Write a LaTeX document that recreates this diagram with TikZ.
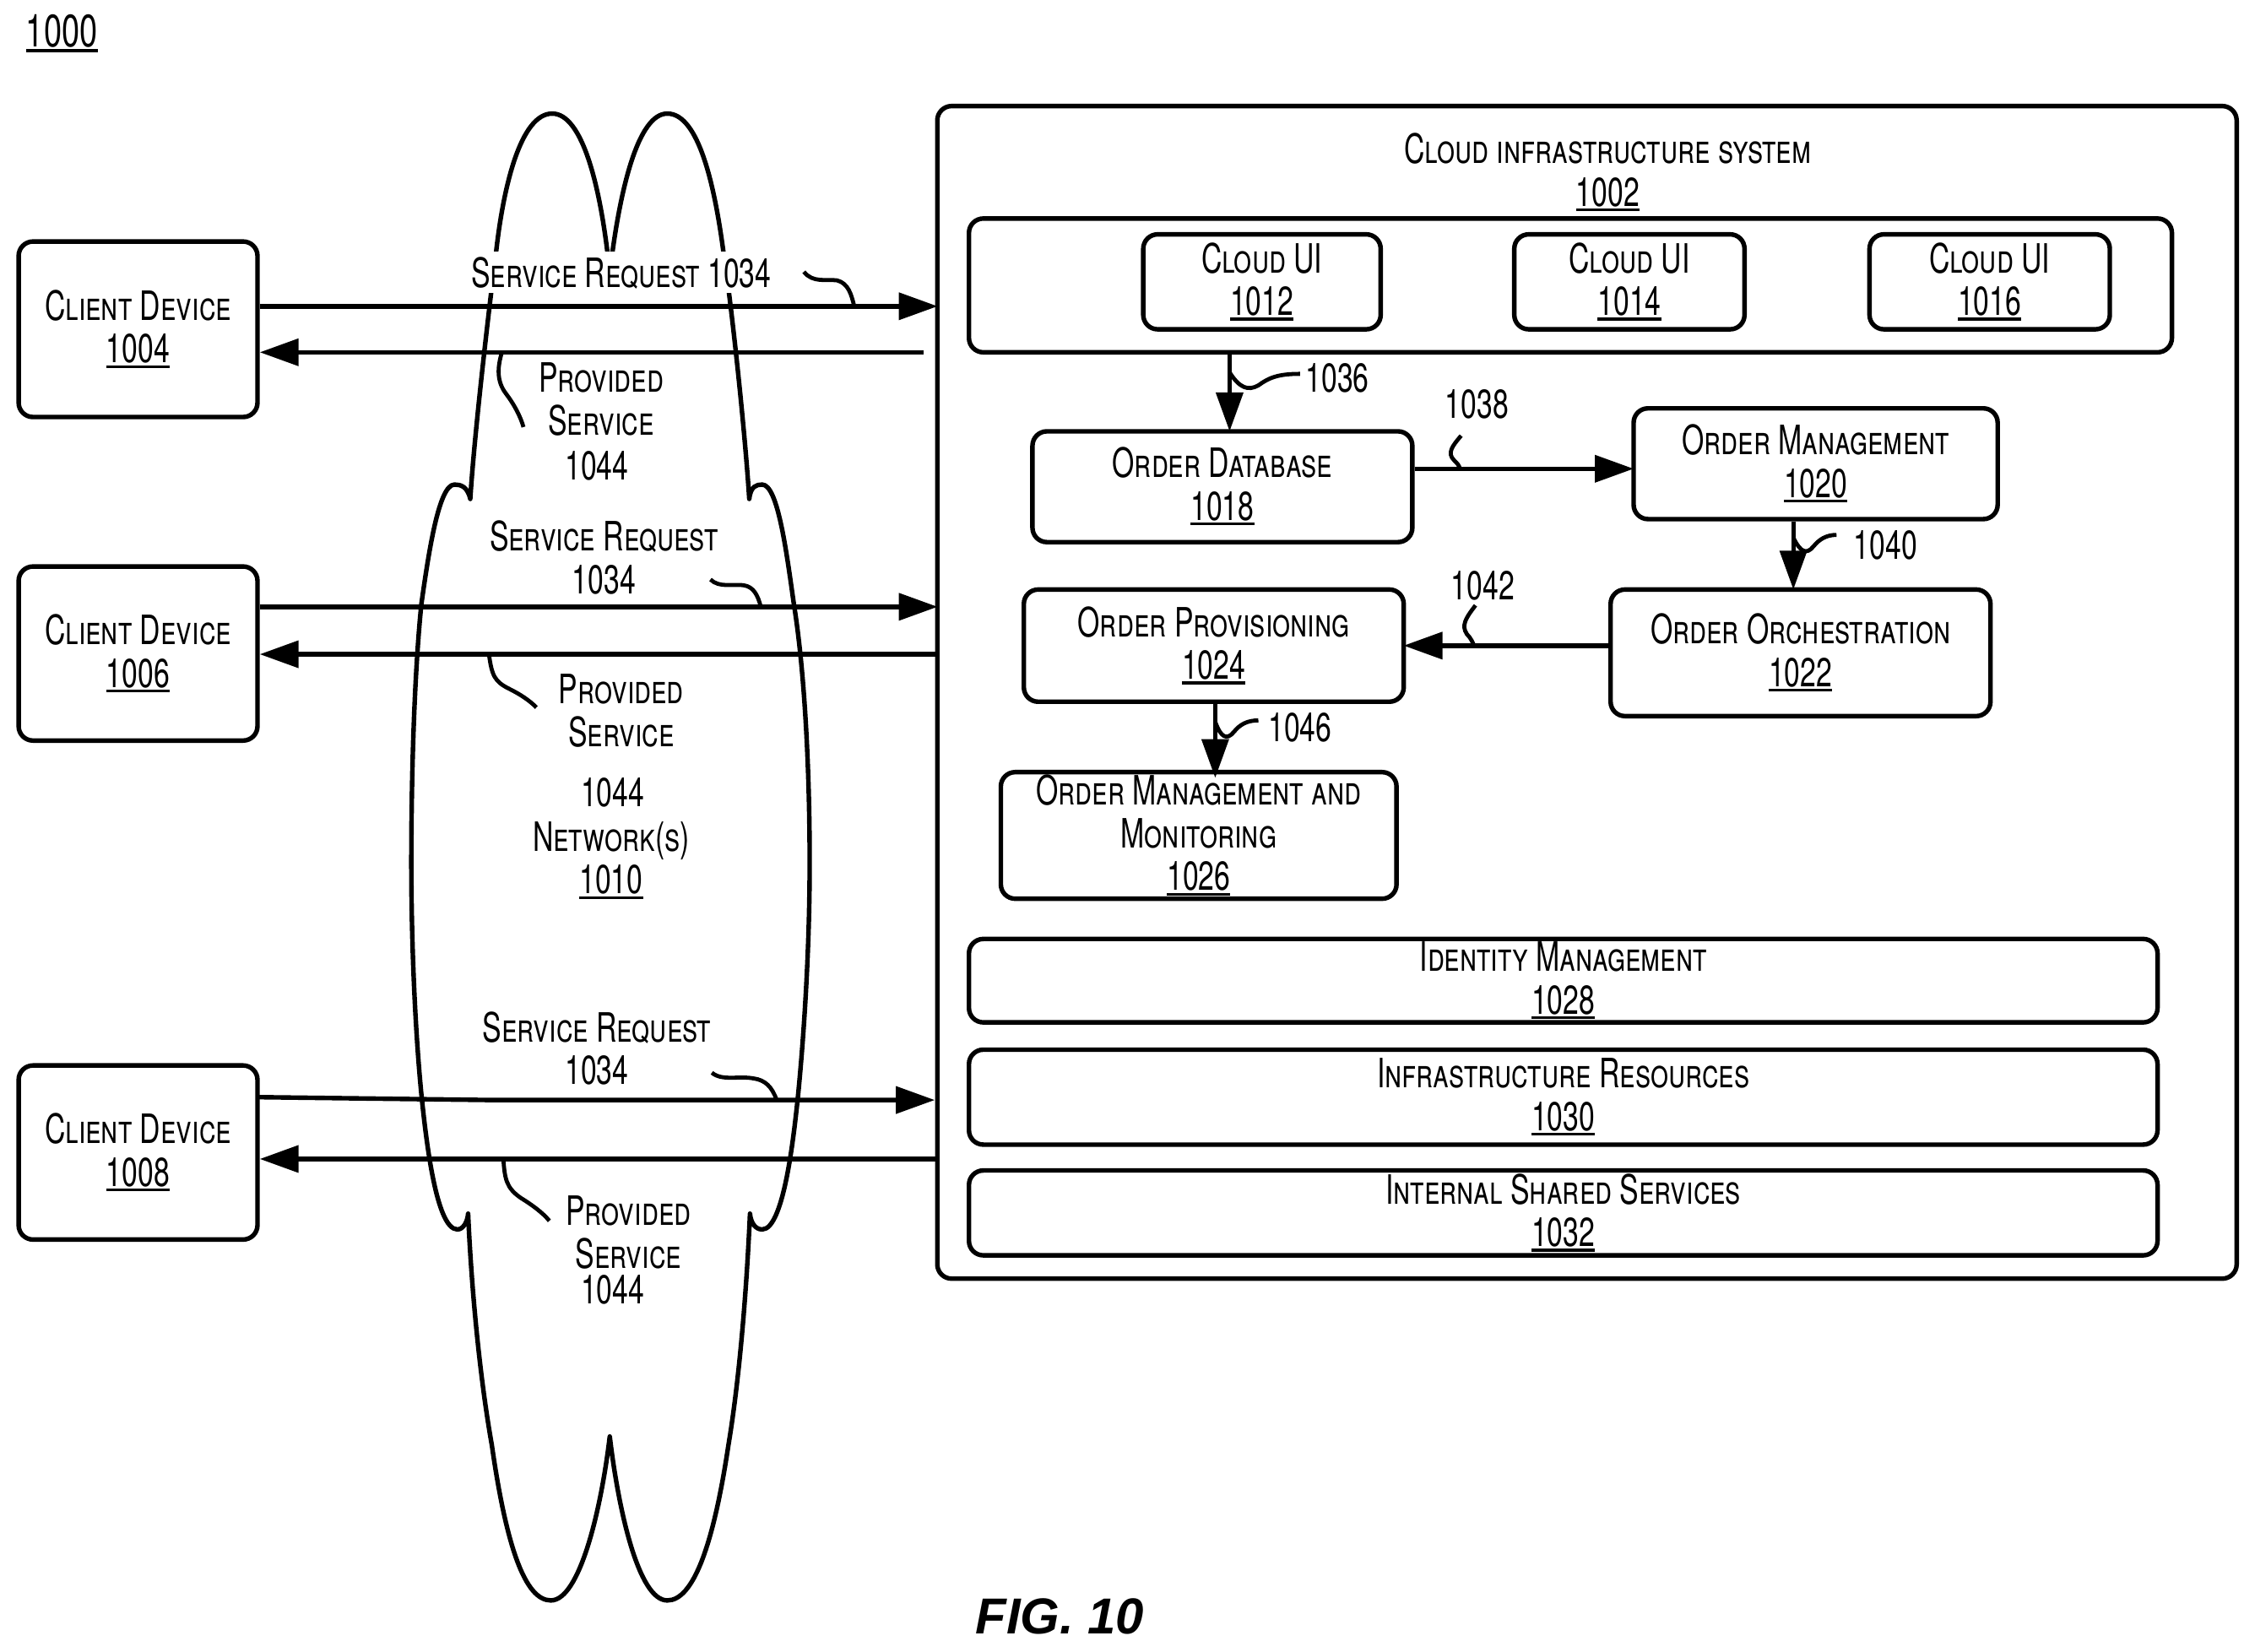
\documentclass[tikz,border=0pt]{standalone}
\usepackage{fontspec}
\setmainfont[FakeStretch=0.705]{TeX Gyre Heros}
\newfontfamily\figfont{Liberation Sans}
\usetikzlibrary{arrows.meta}
\newcommand{\und}[1]{\leavevmode\setbox0=\hbox{#1}\rlap{\rule[-1pt]{\wd0}{0.55pt}}\box0}

\begin{document}
\begin{tikzpicture}[x=0.01cm,y=-0.01cm]
  \tikzset{
    box/.style={draw,line width=0.9pt,rounded corners=0.1cm,align=center,inner sep=0pt,text depth=1.13pt,
      font=\fontsize{8}{8.45}\selectfont},
    txt/.style={align=center,inner sep=0pt,text depth=0pt,font=\fontsize{8}{8.45}\selectfont},
    edge/.style={line width=0.9pt,-{Triangle[length=0.27cm,width=0.185cm]}},
    lead/.style={line width=0.8pt}
  }
  \useasboundingbox (0,0) rectangle (1568,1148.3);

  % network cloud
  \draw[line width=0.9pt,line join=round] (424,190) .. controls (418,130) and (405,79) .. (384,79)
    .. controls (362,79) and (350,130) .. (345,175)
    .. controls (340,215) and (330,300) .. (327,347)
    .. controls (325,338) and (320,337) .. (316,337)
    .. controls (305,337) and (298,385) .. (293,420)
    .. controls (288,470) and (286,540) .. (286,600)
    .. controls (286,660) and (289,720) .. (293,761)
    .. controls (296,790) and (303,855) .. (318,855)
    .. controls (322,855) and (325,850) .. (325.5,844)
    .. controls (328,900) and (334,960) .. (342,1005)
    .. controls (352,1075) and (365,1113) .. (383,1113)
    .. controls (403,1113) and (418,1050) .. (424,999)
    .. controls (430,1050) and (444,1113) .. (464,1113)
    .. controls (482,1113) and (496,1075) .. (506.5,1005)
    .. controls (514,960) and (519,900) .. (521.5,844)
    .. controls (522,850) and (525,855) .. (530,855)
    .. controls (545,855) and (552,790) .. (555,761)
    .. controls (559,720) and (563,660) .. (563,600)
    .. controls (563,540) and (560,470) .. (552,420)
    .. controls (547,385) and (541,337) .. (530,337)
    .. controls (526,337) and (522,338) .. (521,347)
    .. controls (518,300) and (509,215) .. (503,175)
    .. controls (497,130) and (486,79) .. (464,79)
    .. controls (444,79) and (431,130) .. (424,190);

  % vertices
  \node[txt,font=\fontsize{9}{9}\selectfont] (fig) at (43,21.5) {\und{1000}};
  \node[box,minimum width=9.03cm,minimum height=8.15cm] (system) at (1103.5,481.5) {};
  \node[txt] (systitle) at (1118,118) {\textsc{Cloud infrastructure system}\\\und{1002}};
  \node[box,minimum width=8.36cm,minimum height=0.93cm] (uigroup) at (1092,198.5) {};
  \node[box,minimum width=1.65cm,minimum height=0.66cm] (ui1012) at (877.5,196) {\textsc{Cloud UI}\\\und{1012}};
  \node[box,minimum width=1.60cm,minimum height=0.66cm] (ui1014) at (1133,196) {\textsc{Cloud UI}\\\und{1014}};
  \node[box,minimum width=1.67cm,minimum height=0.66cm] (ui1016) at (1383.5,196) {\textsc{Cloud UI}\\\und{1016}};
  \node[box,minimum width=2.64cm,minimum height=0.77cm] (orderdb) at (850,338.5) {\textsc{Order Database}\\\und{1018}};
  \node[box,minimum width=2.53cm,minimum height=0.77cm] (ordermgmt) at (1262.5,322.5) {\textsc{Order Management}\\\und{1020}};
  \node[box,minimum width=2.64cm,minimum height=0.88cm] (orderorch) at (1252,454) {\textsc{Order Orchestration}\\\und{1022}};
  \node[box,minimum width=2.64cm,minimum height=0.78cm] (orderprov) at (844,449) {\textsc{Order Provisioning}\\\und{1024}};
  \node[box,minimum width=2.75cm,minimum height=0.88cm] (ordermon) at (833.5,581) {\textsc{Order Management and}\\\textsc{Monitoring}\\\und{1026}};
  \node[box,minimum width=8.26cm,minimum height=0.58cm] (identity) at (1087,682) {\textsc{Identity Management}\\\und{1028}};
  \node[box,minimum width=8.26cm,minimum height=0.66cm] (infra) at (1087,763) {\textsc{Infrastructure Resources}\\\und{1030}};
  \node[box,minimum width=8.26cm,minimum height=0.59cm] (shared) at (1087,843.5) {\textsc{Internal Shared Services}\\\und{1032}};
  \node[box,minimum width=1.66cm,minimum height=1.22cm] (dev1004) at (96,229) {\textsc{Client Device}\\\und{1004}};
  \node[box,minimum width=1.66cm,minimum height=1.21cm] (dev1006) at (96,454.5) {\textsc{Client Device}\\\und{1006}};
  \node[box,minimum width=1.66cm,minimum height=1.21cm] (dev1008) at (96,801.5) {\textsc{Client Device}\\\und{1008}};

  % labels
  \node[txt,fill=white,minimum height=0.29cm] (reqlabela) at (432,189.5) {\textsc{Service Request} 1034};
  \node[txt] (srvlabela) at (418,277.5) {\textsc{Provided}\\\textsc{Service}};
  \node[txt] (srvnuma) at (415,324) {1044};
  \node[txt] (reqlabelb) at (420,387.5) {\textsc{Service Request}\\1034};
  \node[txt] (srvlabelb) at (432,494) {\textsc{Provided}\\\textsc{Service}};
  \node[txt] (srvnumb) at (426,551) {1044};
  \node[txt] (network) at (425,596.5) {\textsc{Network(s)}\\\und{1010}};
  \node[txt] (reqlabelc) at (415,729) {\textsc{Service Request}\\1034};
  \node[txt] (srvlabelc) at (437,857) {\textsc{Provided}\\\textsc{Service}};
  \node[txt] (srvnumc) at (426,897) {1044};
  \node[txt] (num1036) at (930,263) {1036};
  \node[txt] (num1038) at (1027,281) {1038};
  \node[txt] (num1040) at (1311,379) {1040};
  \node[txt] (num1042) at (1031,407) {1042};
  \node[txt] (num1046) at (904,506) {1046};
  \node[inner sep=0pt,font=\figfont\fontsize{10}{10}\selectfont\bfseries\itshape] (figure) at (737,1124) {FIG. 10};

  % end points of the edges
  \coordinate (reqa) at (652,213);
  \coordinate (srva) at (642,245);
  \coordinate (reqb) at (652,422);
  \coordinate (srvb) at (652,455);
  \coordinate (reqc) at (650,765);
  \coordinate (reqcmid) at (340,765);
  \coordinate (reqcstart) at (179,763);
  \coordinate (srvc) at (652,806);
  \coordinate (todb) at (855,300);
  \coordinate (tomgmt) at (1136,326);
  \coordinate (toorch) at (1247,410);
  \coordinate (toprov) at (976,449);
  \coordinate (tomon) at (845,541);

  %edges
  \draw[edge] (reqa -| dev1004.east) -- (reqa);
  \draw[edge] (srva) -- (srva -| dev1004.east);
  \draw[edge] (reqb -| dev1006.east) -- (reqb);
  \draw[edge] (srvb) -- (srvb -| dev1006.east);
  \draw[edge] (reqcstart) -- (reqcmid) -- (reqc);
  \draw[edge] (srvc) -- (srvc -| dev1008.east);
  \draw[edge] (todb |- uigroup.south) -- (todb);
  \draw[edge] (tomgmt -| orderdb.east) -- (tomgmt);
  \draw[edge] (toorch |- ordermgmt.south) -- (toorch);
  \draw[edge] (toprov -| orderorch.west) -- (toprov);
  \draw[edge] (tomon |- orderprov.south) -- (tomon);

  % leader lines
  \coordinate (la) at (559,189);
  \coordinate (lb) at (594,213);
  \draw[lead] (la) .. controls (565,197) and (575,194) .. (582,195) .. controls (590,197) and (592,205) .. (lb);
  \coordinate (lc) at (349,245);
  \coordinate (ld) at (364,297);
  \draw[lead] (lc) .. controls (346,255) and (345,265) .. (352,274) .. controls (358,282) and (362,290) .. (ld);
  \coordinate (le) at (494,403);
  \coordinate (lf) at (529,422);
  \draw[lead] (le) .. controls (500,409) and (510,406) .. (517,407) .. controls (524,408) and (527,414) .. (lf);
  \coordinate (lg) at (340,455);
  \coordinate (lh) at (373,492);
  \draw[lead] (lg) .. controls (342,470) and (344,474) .. (354,479) .. controls (362,483) and (368,487) .. (lh);
  \coordinate (li) at (495,746);
  \coordinate (lj) at (540,765);
  \draw[lead] (li) .. controls (502,752) and (514,748) .. (524,750) .. controls (532,751) and (537,756) .. (lj);
  \coordinate (lk) at (350,806);
  \coordinate (lm) at (382,849);
  \draw[lead] (lk) .. controls (351,820) and (352,826) .. (362,833) .. controls (370,838) and (377,843) .. (lm);
  \coordinate (ln) at (855,259);
  \coordinate (lo) at (904,260);
  \draw[lead] (ln) .. controls (862,270) and (868,272) .. (875,268) .. controls (882,263) and (888,260) .. (lo);
  \coordinate (lp) at (1016,303);
  \coordinate (lq) at (1015,326);
  \draw[lead] (lp) .. controls (1010,310) and (1006,315) .. (1011,320) .. controls (1013,322) and (1015,324) .. (lq);
  \coordinate (lr) at (1247,374);
  \coordinate (ls) at (1277,372);
  \draw[lead] (lr) .. controls (1252,384) and (1256,386) .. (1261,380) .. controls (1265,375) and (1270,372) .. (ls);
  \coordinate (lt) at (1026,421);
  \coordinate (lu) at (1025,449);
  \draw[lead] (lt) .. controls (1019,430) and (1016,435) .. (1020,441) .. controls (1023,444) and (1024,447) .. (lu);
  \coordinate (lv) at (845,502);
  \coordinate (lw) at (875,501);
  \draw[lead] (lv) .. controls (849,513) and (853,515) .. (858,509) .. controls (862,504) and (867,501) .. (lw);
\end{tikzpicture}
\end{document}
